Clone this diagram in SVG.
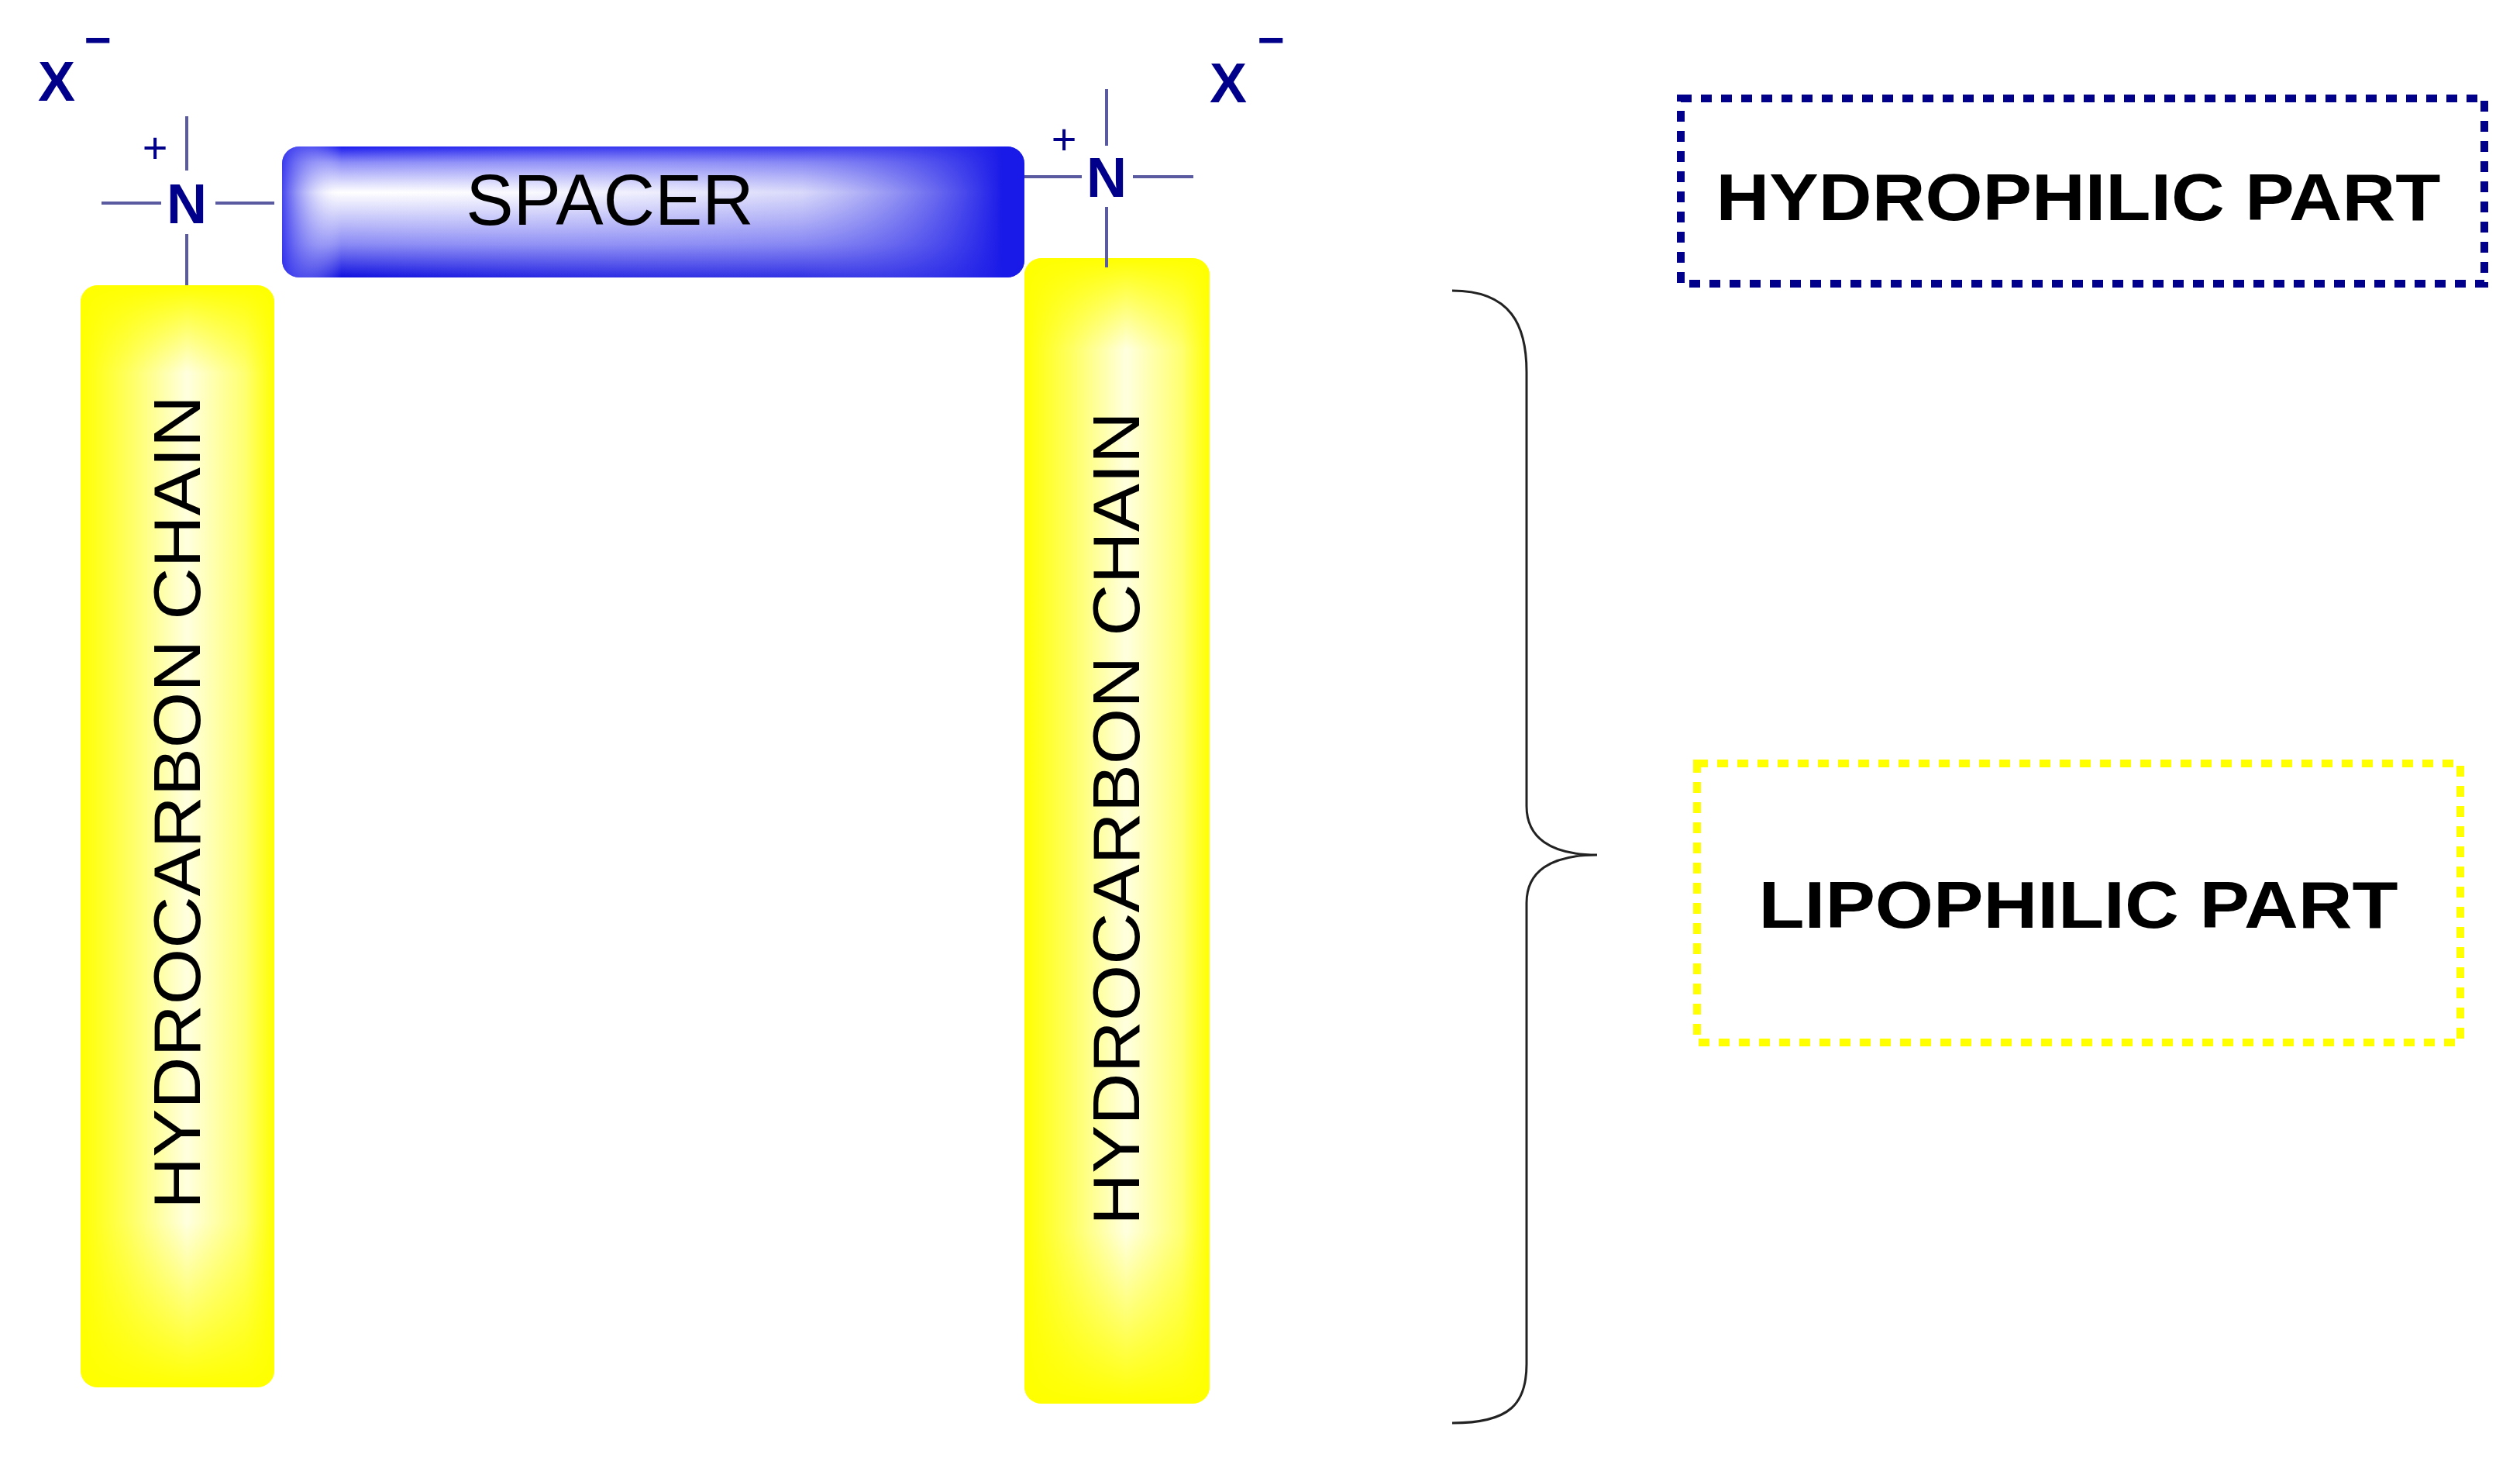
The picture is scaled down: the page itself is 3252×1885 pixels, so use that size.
<svg xmlns="http://www.w3.org/2000/svg" width="3252" height="1885" viewBox="0 0 3252 1885">
<style>
.bond{stroke:#5a5aa0;stroke-width:4}
.atom{font-family:"Liberation Sans",Arial,sans-serif;font-weight:bold;fill:#00008b}
.lbl{font-family:"Liberation Sans",Arial,sans-serif;fill:#000}
.part{font-family:"Liberation Sans",Arial,sans-serif;font-weight:bold;fill:#000;font-size:86px}
</style>
<defs>
<linearGradient id="blueV" x1="0" y1="0" x2="0" y2="1">
<stop offset="0" stop-color="#1a1aee"/><stop offset="0.12" stop-color="#8a8af8"/><stop offset="0.35" stop-color="#ffffff" stop-opacity="0.9"/><stop offset="0.75" stop-color="#8888f5"/><stop offset="1" stop-color="#1010e0"/>
</linearGradient>
<linearGradient id="blueH" x1="0" y1="0" x2="1" y2="0">
<stop offset="0" stop-color="#3030ee" stop-opacity="0.9"/><stop offset="0.08" stop-color="#ffffff" stop-opacity="0"/><stop offset="0.7" stop-color="#8080f0" stop-opacity="0.3"/><stop offset="0.97" stop-color="#1a1ae8"/>
</linearGradient>
<linearGradient id="yelH" x1="0" y1="0" x2="1" y2="0">
<stop offset="0" stop-color="#ffff00"/><stop offset="0.25" stop-color="#ffff60"/><stop offset="0.55" stop-color="#ffffe0"/><stop offset="0.85" stop-color="#ffff70"/><stop offset="1" stop-color="#ffff00"/>
</linearGradient>
<linearGradient id="yelV" x1="0" y1="0" x2="0" y2="1">
<stop offset="0" stop-color="#ffff00"/><stop offset="0.08" stop-color="#ffff00" stop-opacity="0"/><stop offset="0.85" stop-color="#ffff00" stop-opacity="0"/><stop offset="1" stop-color="#ffff00"/>
</linearGradient>
</defs>
<rect width="3252" height="1885" fill="#fff"/>
<g id="chain-left">
<rect x="104" y="368" width="250" height="1422" rx="22" fill="url(#yelH)"/>
<rect x="104" y="368" width="250" height="1422" rx="22" fill="url(#yelV)"/>
<text class="lbl" font-size="86" text-anchor="middle" transform="translate(258,1035) rotate(-90)" textLength="1050" lengthAdjust="spacingAndGlyphs">HYDROCARBON CHAIN</text>
</g>
<g id="chain-right">
<rect x="1322" y="333" width="239" height="1478" rx="22" fill="url(#yelH)"/>
<rect x="1322" y="333" width="239" height="1478" rx="22" fill="url(#yelV)"/>
<text class="lbl" font-size="86" text-anchor="middle" transform="translate(1470,1056) rotate(-90)" textLength="1050" lengthAdjust="spacingAndGlyphs">HYDROCARBON CHAIN</text>
</g>
<g id="spacer">
<rect x="364" y="189" width="958" height="169" rx="22" fill="url(#blueV)"/>
<rect x="364" y="189" width="958" height="169" rx="22" fill="url(#blueH)"/>
<text class="lbl" font-size="92" text-anchor="middle" x="787" y="290">SPACER</text>
</g>
<g id="connectors">
<line class="bond" x1="131" y1="262" x2="208" y2="262"/>
<line class="bond" x1="278" y1="262" x2="354" y2="262"/>
<line class="bond" x1="241" y1="150" x2="241" y2="220"/>
<line class="bond" x1="241" y1="302" x2="241" y2="368"/>
<line class="bond" x1="1322" y1="228" x2="1396" y2="228"/>
<line class="bond" x1="1462" y1="228" x2="1540" y2="228"/>
<line class="bond" x1="1428" y1="115" x2="1428" y2="188"/>
<line class="bond" x1="1428" y1="267" x2="1428" y2="345"/>
<path d="M1874,375 C1950,375 1970,420 1970,480 L1970,1040 C1970,1080 2000,1103 2061,1103 C2000,1103 1970,1125 1970,1165 L1970,1760 C1970,1810 1950,1836 1874,1836" fill="none" stroke="#222" stroke-width="3"/>
</g>
<g id="left-N">
<text class="atom" font-size="72" x="241" y="288" text-anchor="middle">N</text>
<text class="atom" font-size="56" x="200" y="210" text-anchor="middle" style="font-weight:normal">+</text>
<text class="atom" font-size="72" x="73" y="130" text-anchor="middle">X</text>
<text class="atom" font-size="60" x="126" y="72" text-anchor="middle">−</text>
</g>
<g id="right-N">
<text class="atom" font-size="72" x="1428" y="254" text-anchor="middle">N</text>
<text class="atom" font-size="56" x="1373" y="199" text-anchor="middle" style="font-weight:normal">+</text>
<text class="atom" font-size="72" x="1585" y="132" text-anchor="middle">X</text>
<text class="atom" font-size="60" x="1640" y="72" text-anchor="middle">−</text>
</g>
<g id="hydrophilic">
<rect x="2169" y="127" width="1037" height="239" fill="none" stroke="#00008b" stroke-width="10" stroke-dasharray="14,12"/>
<text class="part" x="2682" y="284" text-anchor="middle" textLength="935" lengthAdjust="spacingAndGlyphs">HYDROPHILIC PART</text>
</g>
<g id="lipophilic">
<rect x="2190" y="985" width="985" height="360" fill="none" stroke="#ffff00" stroke-width="10" stroke-dasharray="14,12"/>
<text class="part" x="2682" y="1197" text-anchor="middle" textLength="825" lengthAdjust="spacingAndGlyphs">LIPOPHILIC PART</text>
</g>
</svg>
